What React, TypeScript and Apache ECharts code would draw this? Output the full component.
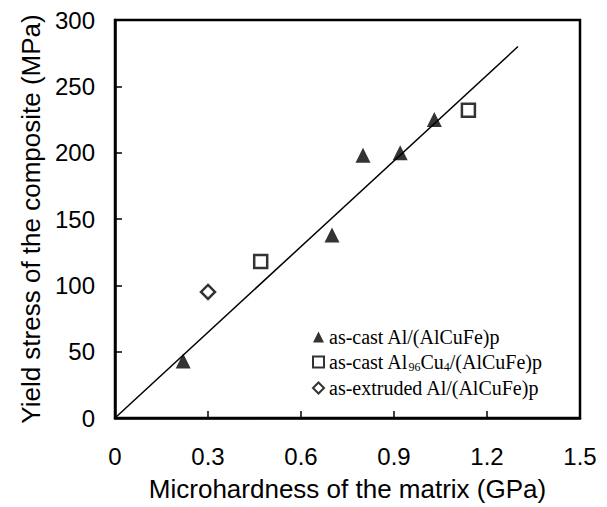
import React, { useEffect, useRef } from "react";
import * as echarts from "echarts";

// Yield stress vs matrix microhardness
const asCastAl: [number, number][] = [
  [0.22, 43],
  [0.7, 138],
  [0.8, 198],
  [0.92, 200],
  [1.03, 225],
];
const asCastAlCu: [number, number][] = [
  [0.47, 118],
  [1.14, 232],
];
const asExtruded: [number, number][] = [[0.3, 95]];
const fitLine: [number, number][] = [
  [0, 0],
  [1.3, 280],
];

const xTickLabels = ["0", "0.3", "0.6", "0.9", "1.2", "1.5"];
const yTickLabels = ["0", "50", "100", "150", "200", "250", "300"];

const seriesNames = [
  "as-cast Al/(AlCuFe)p",
  "as-cast Al96Cu4/(AlCuFe)p",
  "as-extruded Al/(AlCuFe)p",
];
const legendRich: Record<string, string> = {
  "as-cast Al/(AlCuFe)p": "as-cast Al/(AlCuFe)p",
  "as-cast Al96Cu4/(AlCuFe)p": "as-cast Al{sub|96}Cu{sub|4}/(AlCuFe)p",
  "as-extruded Al/(AlCuFe)p": "as-extruded Al/(AlCuFe)p",
};

export default function App() {
  const ref = useRef<HTMLDivElement>(null);

  useEffect(() => {
    document.body.style.margin = "0";
    if (!ref.current) return;
    const chart = echarts.init(ref.current, undefined, { renderer: "svg" });
    const sans = "Liberation Sans, Arial, sans-serif";
    const serif = "Liberation Serif, Times New Roman, serif";
    chart.setOption({
      animation: false,
      backgroundColor: "#ffffff",
      grid: {
        left: 115,
        right: 27,
        top: 20,
        bottom: 88,
        show: true,
        borderColor: "#000",
        borderWidth: 2.5,
        backgroundColor: "transparent",
      },
      xAxis: {
        type: "value",
        min: 0,
        max: 1.5,
        interval: 0.3,
        name: "Microhardness of the matrix (GPa)",
        nameLocation: "middle",
        nameGap: 58,
        nameTextStyle: { fontFamily: sans, fontSize: 26, color: "#000" },
        axisLine: { show: true, onZero: false, lineStyle: { color: "#000", width: 2.5 } },
        axisTick: { show: true, inside: true, length: 7, lineStyle: { color: "#000", width: 1.5 } },
        splitLine: { show: false },
        axisLabel: {
          fontFamily: sans,
          fontSize: 24,
          color: "#000",
          margin: 26,
          formatter: (v: number) => xTickLabels[Math.round(v / 0.3)] ?? "",
        },
      },
      yAxis: {
        type: "value",
        min: 0,
        max: 300,
        interval: 50,
        name: "Yield stress of the composite (MPa)",
        nameLocation: "middle",
        nameGap: 70,
        nameTextStyle: { fontFamily: sans, fontSize: 26, color: "#000" },
        axisLine: { show: true, onZero: false, lineStyle: { color: "#000", width: 2.5 } },
        axisTick: { show: true, inside: true, length: 7, lineStyle: { color: "#000", width: 1.5 } },
        splitLine: { show: false },
        axisLabel: {
          fontFamily: sans,
          fontSize: 24,
          color: "#000",
          margin: 20,
          formatter: (v: number) => yTickLabels[Math.round(v / 50)] ?? "",
        },
      },
      legend: {
        orient: "vertical",
        left: 307,
        top: 322,
        itemGap: 5,
        itemWidth: 11,
        itemHeight: 11,
        data: seriesNames,
        formatter: (name: string) => legendRich[name] ?? name,
        textStyle: {
          fontFamily: serif,
          fontSize: 20,
          color: "#000",
          rich: {
            sub: { fontFamily: serif, fontSize: 12, verticalAlign: "bottom", padding: [10, 0, 0, 0] },
          },
        },
      },
      series: [
        {
          name: "fit",
          type: "line",
          data: fitLine,
          showSymbol: false,
          symbol: "none",
          lineStyle: { color: "#000", width: 1.5 },
          z: 1,
        },
        {
          name: seriesNames[0],
          type: "scatter",
          data: asCastAl,
          symbol: "triangle",
          symbolSize: 15,
          itemStyle: { color: "#000" },
          z: 3,
        },
        {
          name: seriesNames[1],
          type: "scatter",
          data: asCastAlCu,
          symbol: "rect",
          symbolSize: 13,
          itemStyle: { color: "#fff", borderColor: "#000", borderWidth: 2.5 },
          z: 3,
        },
        {
          name: seriesNames[2],
          type: "scatter",
          data: asExtruded,
          symbol: "diamond",
          symbolSize: 14,
          itemStyle: { color: "#fff", borderColor: "#000", borderWidth: 2.5 },
          z: 3,
        },
      ],
    });
    return () => chart.dispose();
  }, []);

  return <div ref={ref} style={{ width: 607, height: 507 }} />;
}
